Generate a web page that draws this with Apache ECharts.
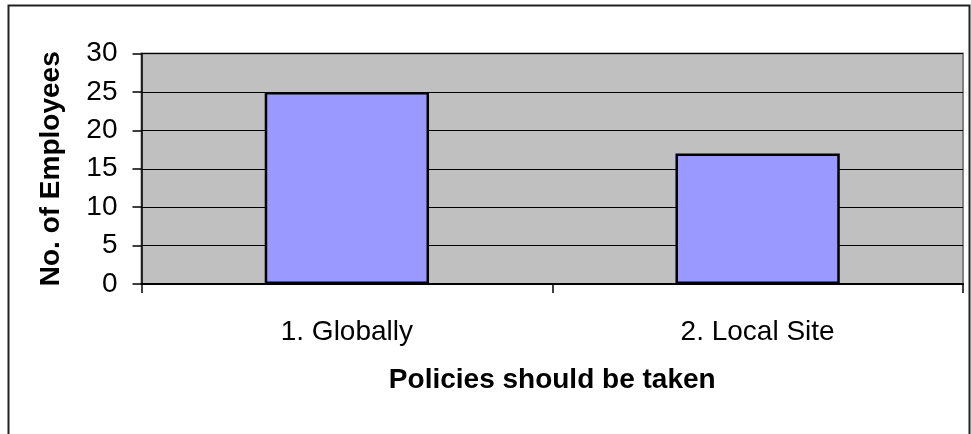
<!DOCTYPE html>
<html>
<head>
<meta charset="utf-8">
<script src="https://cdn.jsdelivr.net/npm/echarts@6/dist/echarts.min.js"></script>
<style>
  html, body { margin: 0; padding: 0; background: #fff; }
  #chart { width: 971px; height: 434px; }
</style>
</head>
<body>
<div id="chart"></div>
<script>
// Survey answers: where policies should be set
const categories = ['1. Globally', '2. Local Site'];
const employees = [25, 17];
const yTicks = { min: 0, max: 30, interval: 5 };

const FONT = '"Liberation Sans", Arial, sans-serif';

const chart = echarts.init(document.getElementById('chart'), null, { renderer: 'canvas' });

chart.setOption({
  animation: false,
  backgroundColor: '#ffffff',
  graphic: [{
    type: 'rect',
    silent: true,
    shape: { x: 8.5, y: 5.5, width: 961, height: 500 },
    style: { fill: 'none', stroke: '#222222', lineWidth: 2 }
  }],
  grid: {
    left: 141.5, top: 53.5, right: 8, bottom: 150,
    show: true,
    backgroundColor: '#C0C0C0',
    borderColor: '#808080',
    borderWidth: 2
  },
  xAxis: {
    type: 'category',
    data: categories,
    name: 'Policies should be taken',
    nameLocation: 'middle',
    nameGap: 82,
    nameTextStyle: { fontFamily: FONT, fontSize: 28, fontWeight: 'bold', color: '#000' },
    axisLine: { lineStyle: { color: '#000', width: 2 } },
    axisTick: { show: true, length: 9, lineStyle: { color: '#000', width: 1.5 } },
    axisLabel: { fontFamily: FONT, fontSize: 28, color: '#000', margin: 34 }
  },
  yAxis: {
    type: 'value',
    min: yTicks.min, max: yTicks.max, interval: yTicks.interval,
    name: 'No. of Employees',
    nameLocation: 'middle',
    nameRotate: 90,
    nameGap: 76,
    nameTextStyle: { fontFamily: FONT, fontSize: 28, fontWeight: 'bold', color: '#000' },
    axisLine: { show: true, lineStyle: { color: '#000', width: 1.5 } },
    axisTick: { show: true, length: 9, lineStyle: { color: '#000', width: 1.5 } },
    axisLabel: { fontFamily: FONT, fontSize: 28, color: '#000', margin: 24, padding: [5, 0, 0, 0] },
    splitLine: { show: true, lineStyle: { color: '#000', width: 1.2 } }
  },
  series: [{
    type: 'bar',
    data: employees,
    barCategoryGap: '60%',
    itemStyle: { color: '#9999FF', borderColor: '#000', borderWidth: 2.5 }
  }]
});
</script>
</body>
</html>
